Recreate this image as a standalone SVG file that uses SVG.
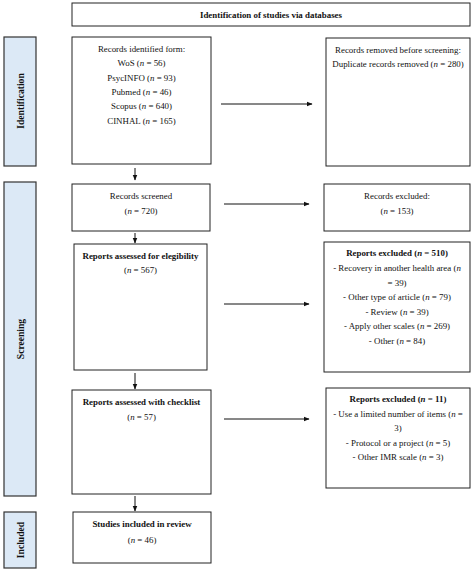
<svg xmlns="http://www.w3.org/2000/svg" width="474" height="571" viewBox="0 0 474 571">
<style>
text{font-family:"Liberation Serif","DejaVu Serif",serif;font-size:8.9px;fill:#111;text-anchor:middle}
.b{font-weight:bold}
.i{font-style:italic}
.sl{font-size:9.6px}
.box{fill:#fff;stroke:#222;stroke-width:1}
.side{fill:#dce9f6;stroke:#333;stroke-width:1.2}
.conn{stroke:#111;stroke-width:1;fill:none;marker-end:url(#ah)}
</style>
<defs>
<marker id="ah" viewBox="0 0 10 10" refX="9" refY="5" markerWidth="6" markerHeight="6" markerUnits="userSpaceOnUse" orient="auto">
<path d="M0,1 L10,5 L0,9 z" fill="#111"/>
</marker>
</defs>
<rect width="474" height="571" fill="#fff"/>
<g id="header"><rect class="box" x="72" y="3" width="398" height="23"/><text class="b" x="271" y="17.5">Identification of studies via databases</text></g>
<g id="side-identification"><rect class="side" x="4" y="37" width="32" height="129"/><text class="b sl" transform="translate(23.5,101) rotate(-90)">Identification</text></g>
<g id="side-screening"><rect class="side" x="4" y="182" width="32" height="314"/><text class="b sl" transform="translate(23.5,339) rotate(-90)">Screening</text></g>
<g id="side-included"><rect class="side" x="4" y="512" width="32" height="56"/><text class="b sl" transform="translate(23.5,540) rotate(-90)">Included</text></g>
<g id="records-identified"><rect class="box" x="72" y="37" width="139" height="127"/>
<text x="141.5" y="52">Records identified form:</text>
<text x="141.5" y="66">WoS (<tspan class="i">n</tspan> = 56)</text>
<text x="141.5" y="81">PsycINFO (<tspan class="i">n</tspan> = 93)</text>
<text x="141.5" y="94.5">Pubmed (<tspan class="i">n</tspan> = 46)</text>
<text x="141.5" y="109">Scopus (<tspan class="i">n</tspan> = 640)</text>
<text x="141.5" y="124">CINHAL (<tspan class="i">n</tspan> = 165)</text></g>
<g id="records-removed"><rect class="box" x="326" y="38" width="144" height="128"/>
<text x="398" y="53">Records removed before screening:</text>
<text x="398" y="67">Duplicate records removed (<tspan class="i">n</tspan> = 280)</text></g>
<g id="records-screened"><rect class="box" x="72" y="184" width="138" height="47"/>
<text x="141" y="199">Records screened</text>
<text x="141" y="214">(<tspan class="i">n</tspan> = 720)</text></g>
<g id="records-excluded"><rect class="box" x="324" y="184" width="146" height="47"/>
<text x="397" y="199">Records excluded:</text>
<text x="397" y="214">(<tspan class="i">n</tspan> = 153)</text></g>
<g id="reports-eligibility"><rect class="box" x="74" y="244" width="133" height="126"/>
<text class="b" x="140.5" y="259">Reports assessed for elegibility</text>
<text x="140.5" y="273">(<tspan class="i">n</tspan> = 567)</text></g>
<g id="reports-excluded-510"><rect class="box" x="324" y="242" width="146" height="130"/>
<text class="b" x="397" y="256">Reports excluded (<tspan class="i">n</tspan> = 510)</text>
<text x="397" y="271">- Recovery in another health area (<tspan class="i">n</tspan></text>
<text x="397" y="286">= 39)</text>
<text x="397" y="300">- Other type of article (<tspan class="i">n</tspan> = 79)</text>
<text x="397" y="315">- Review (<tspan class="i">n</tspan> = 39)</text>
<text x="397" y="329">- Apply other scales (<tspan class="i">n</tspan> = 269)</text>
<text x="397" y="344">- Other (<tspan class="i">n</tspan> = 84)</text></g>
<g id="reports-checklist"><rect class="box" x="72" y="390" width="139" height="104"/>
<text class="b" x="141.5" y="405">Reports assessed with checklist</text>
<text x="141.5" y="420">(<tspan class="i">n</tspan> = 57)</text></g>
<g id="reports-excluded-11"><rect class="box" x="326" y="388" width="144" height="100"/>
<text class="b" x="398" y="402">Reports excluded (<tspan class="i">n</tspan> = 11)</text>
<text x="398" y="417">- Use a limited number of items (<tspan class="i">n</tspan> =</text>
<text x="398" y="431">3)</text>
<text x="398" y="446">- Protocol or a project (<tspan class="i">n</tspan> = 5)</text>
<text x="398" y="460">- Other IMR scale (<tspan class="i">n</tspan> = 3)</text></g>
<g id="studies-included"><rect class="box" x="73" y="512" width="138" height="51"/>
<text class="b" x="142" y="527">Studies included in review</text>
<text x="142" y="543">(<tspan class="i">n</tspan> = 46)</text></g>
<g id="connectors">
<line class="conn" x1="221" y1="104" x2="312" y2="104"/>
<line class="conn" x1="135" y1="168" x2="135" y2="180"/>
<line class="conn" x1="224" y1="204" x2="309" y2="204"/>
<line class="conn" x1="135" y1="233" x2="135" y2="243"/>
<line class="conn" x1="224" y1="304" x2="309" y2="304"/>
<line class="conn" x1="135" y1="373" x2="135" y2="389"/>
<line class="conn" x1="224" y1="419" x2="309" y2="419"/>
<line class="conn" x1="135" y1="496" x2="135" y2="511"/>
</g>
</svg>
